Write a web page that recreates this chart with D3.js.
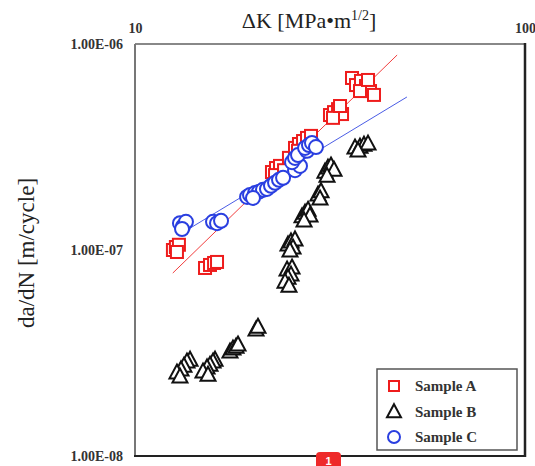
<!DOCTYPE html>
<html><head><meta charset="utf-8">
<script src="https://cdn.jsdelivr.net/npm/d3@7"></script>
</head><body style="margin:0"><svg id="c" width="535" height="466"></svg>
<script>
const xTicks=[10,100];
const xTickLabels=["10","100"];
const yTicks=[1e-6,1e-7,1e-8];
const yTickLabels=["1.00E-06","1.00E-07","1.00E-08"];
const seriesNames=["Sample A","Sample B","Sample C"];
// [ΔK (MPa·m^1/2), da/dN (m/cycle)]
const sampleA=[[12.51,1.00e-7],[12.73,1.034e-7],[12.96,1.06e-7],[12.81,9.78e-8],
 [15.12,8.18e-8],[15.57,8.46e-8],[15.95,8.65e-8],[16.23,8.75e-8],
 [22.45,2.39e-7],[22.99,2.50e-7],[23.54,2.56e-7],[22.86,2.31e-7],[24.11,2.44e-7],[24.82,2.80e-7],
 [25.72,3.13e-7],[26.33,3.27e-7],[26.97,3.38e-7],[27.61,3.50e-7],[28.27,3.58e-7],[26.18,3.03e-7],
 [31.62,4.52e-7],[32.38,4.67e-7],[33.16,4.83e-7],[33.95,4.57e-7],[32.19,4.38e-7],[33.55,5.00e-7],
 [36.01,6.84e-7],[36.87,6.32e-7],[37.97,6.62e-7],[39.11,6.25e-7],[40.05,5.91e-7],[41.00,5.66e-7],[37.75,5.91e-7],[39.58,6.69e-7]];
const sampleB=[[36.65,3.13e-7],[37.75,3.16e-7],[38.65,3.23e-7],[39.58,3.27e-7],[37.31,3.03e-7],
 [30.70,2.39e-7],[31.25,2.50e-7],[31.81,2.56e-7],[32.38,2.44e-7],[31.07,2.28e-7],
 [29.46,1.85e-7],[29.99,1.92e-7],[29.81,1.77e-7],
 [26.81,1.45e-7],[27.29,1.51e-7],[27.78,1.56e-7],[28.10,1.465e-7],[27.13,1.385e-7],
 [24.68,1.06e-7],[25.12,1.095e-7],[25.72,1.12e-7],[25.42,1.023e-7],[24.97,9.89e-8],
 [24.54,8.00e-8],[25.27,8.18e-8],[25.12,7.56e-8],[24.68,7.31e-8],[24.25,6.99e-8],[24.82,6.68e-8],
 [20.43,4.09e-8],[20.67,4.22e-8],
 [17.52,3.20e-8],[17.83,3.31e-8],[18.16,3.38e-8],[18.37,3.46e-8],
 [16.04,2.92e-8],[15.85,2.86e-8],[15.57,2.76e-8],[15.30,2.68e-8],[14.94,2.56e-8],[15.39,2.47e-8],
 [13.84,2.92e-8],[13.59,2.86e-8],[13.35,2.73e-8],[13.12,2.62e-8],[12.81,2.53e-8],[13.04,2.42e-8]];
const sampleC=[[13.04,1.35e-7],[13.27,1.30e-7],[13.51,1.37e-7],[13.20,1.265e-7],
 [15.85,1.37e-7],[16.23,1.35e-7],[16.62,1.385e-7],
 [19.38,1.81e-7],[19.72,1.85e-7],[20.31,1.89e-7],[20.80,1.92e-7],[21.29,1.96e-7],[21.80,1.98e-7],[20.07,1.79e-7],
 [22.32,2.05e-7],[22.86,2.12e-7],[23.40,2.19e-7],[23.97,2.24e-7],
 [25.72,2.44e-7],[26.49,2.56e-7],[25.27,2.67e-7],[25.72,2.80e-7],[26.18,2.89e-7],
 [27.61,3.03e-7],[27.29,3.13e-7],[27.93,3.23e-7],[28.43,3.31e-7],[29.11,3.16e-7]];
const fitA=[[12.5,7.73e-8],[47.0,8.84e-7]];
const fitC=[[13.2,1.209e-7],[49.8,5.53e-7]];

const svg=d3.select("#c");
const L=135,R=525,T=44,B=456;
const x=d3.scaleLog().domain([10,100]).range([L,R]);
const y=d3.scaleLog().domain([1e-8,1e-6]).range([B,T]);
const red="#ee1c1c", blue="#2a3fe0", black="#111";

// axes labels
const ax=svg.append("g").attr("transform",`translate(0,${T})`)
 .call(d3.axisTop(x).tickValues(xTicks).tickSize(0).tickPadding(11).tickFormat((d,i)=>xTickLabels[i]));
const ay=svg.append("g").attr("transform",`translate(${L},0)`)
 .call(d3.axisLeft(y).tickValues(yTicks).tickSize(0).tickPadding(12).tickFormat((d,i)=>yTickLabels[i]));
[ax,ay].forEach(g=>{g.select(".domain").remove();g.attr("font-family",null).attr("font-size",null);
 g.selectAll("text").style("font-family",'"Georgia"').attr("font-size",14).attr("font-weight","bold").attr("fill","#333");});

// frame
svg.append("line").attr("x1",L).attr("x2",R).attr("y1",T).attr("y2",T).attr("stroke","#888").attr("stroke-width",2);
svg.append("line").attr("x1",L).attr("x2",L).attr("y1",T).attr("y2",B).attr("stroke","#777").attr("stroke-width",2);
svg.append("line").attr("x1",R).attr("x2",R).attr("y1",T-1).attr("y2",B+1).attr("stroke","#222").attr("stroke-width",2.5);
svg.append("line").attr("x1",L-1).attr("x2",R+1).attr("y1",B).attr("y2",B).attr("stroke","#222").attr("stroke-width",2);

// titles
const tt=svg.append("text").style("font-family",'"Tinos"').attr("x",309).attr("y",28).attr("text-anchor","middle")
 .attr("font-size",22).attr("fill","#222");
tt.append("tspan").text("ΔK [MPa•m");
tt.append("tspan").attr("font-size",14).attr("dy",-8).text("1/2");
tt.append("tspan").attr("dy",8).text("]");
svg.append("text").style("font-family",'"Times New Roman"').attr("transform","translate(34,253) rotate(-90)").attr("text-anchor","middle")
 .attr("font-size",23).attr("fill","#222").text("da/dN [m/cycle]");

// fit lines
const line=d3.line().x(d=>x(d[0])).y(d=>y(d[1]));
svg.append("path").attr("d",line(fitA)).attr("stroke",red).attr("stroke-width",1).attr("fill","none").attr("opacity",0.85);
svg.append("path").attr("d",line(fitC)).attr("stroke",blue).attr("stroke-width",1).attr("fill","none").attr("opacity",0.85);

const tri=(w,h)=>`M0,${-h*0.6}L${w/2},${h*0.4}L${-w/2},${h*0.4}Z`;
// markers
svg.append("g").selectAll("path").data(sampleB).join("path")
 .attr("d",tri(15,14)).attr("transform",d=>`translate(${x(d[0])},${y(d[1])})`)
 .attr("fill","#fff").attr("stroke",black).attr("stroke-width",2);
svg.append("g").selectAll("rect").data(sampleA).join("rect")
 .attr("x",d=>x(d[0])-6).attr("y",d=>y(d[1])-6).attr("width",12).attr("height",12)
 .attr("fill","#fff").attr("stroke",red).attr("stroke-width",2);
svg.append("g").selectAll("circle").data(sampleC).join("circle")
 .attr("cx",d=>x(d[0])).attr("cy",d=>y(d[1])).attr("r",7)
 .attr("fill","#fff").attr("stroke",blue).attr("stroke-width",2);

// legend
const lg=svg.append("g");
lg.append("rect").attr("x",377).attr("y",369).attr("width",140).attr("height",81).attr("fill","#fff").attr("stroke","#555").attr("stroke-width",1.5);
const rows=[386,412,437];
lg.append("rect").attr("x",389).attr("y",rows[0]-5).attr("width",10).attr("height",10).attr("fill","#fff").attr("stroke",red).attr("stroke-width",2);
lg.append("path").attr("d",tri(14,13)).attr("transform",`translate(394,${rows[1]})`).attr("fill","#fff").attr("stroke",black).attr("stroke-width",2);
lg.append("circle").attr("cx",394).attr("cy",rows[2]).attr("r",6).attr("fill","#fff").attr("stroke",blue).attr("stroke-width",2);
seriesNames.forEach((n,i)=>lg.append("text").style("font-family",'"Nimbus Roman"')
 .attr("x",415).attr("y",rows[i]+5).attr("font-weight","bold")
 .attr("font-size",15).attr("fill","#333").text(n));

// page badge
svg.append("rect").attr("x",316).attr("y",452).attr("width",25).attr("height",20).attr("rx",4).attr("fill","#ee2a2a");
svg.append("text").attr("x",328.5).attr("y",465).attr("text-anchor","middle").style("font-family",'"Liberation Sans"').attr("font-weight","bold").attr("font-size",11).attr("fill","#fff").text("1");
</script></body></html>
